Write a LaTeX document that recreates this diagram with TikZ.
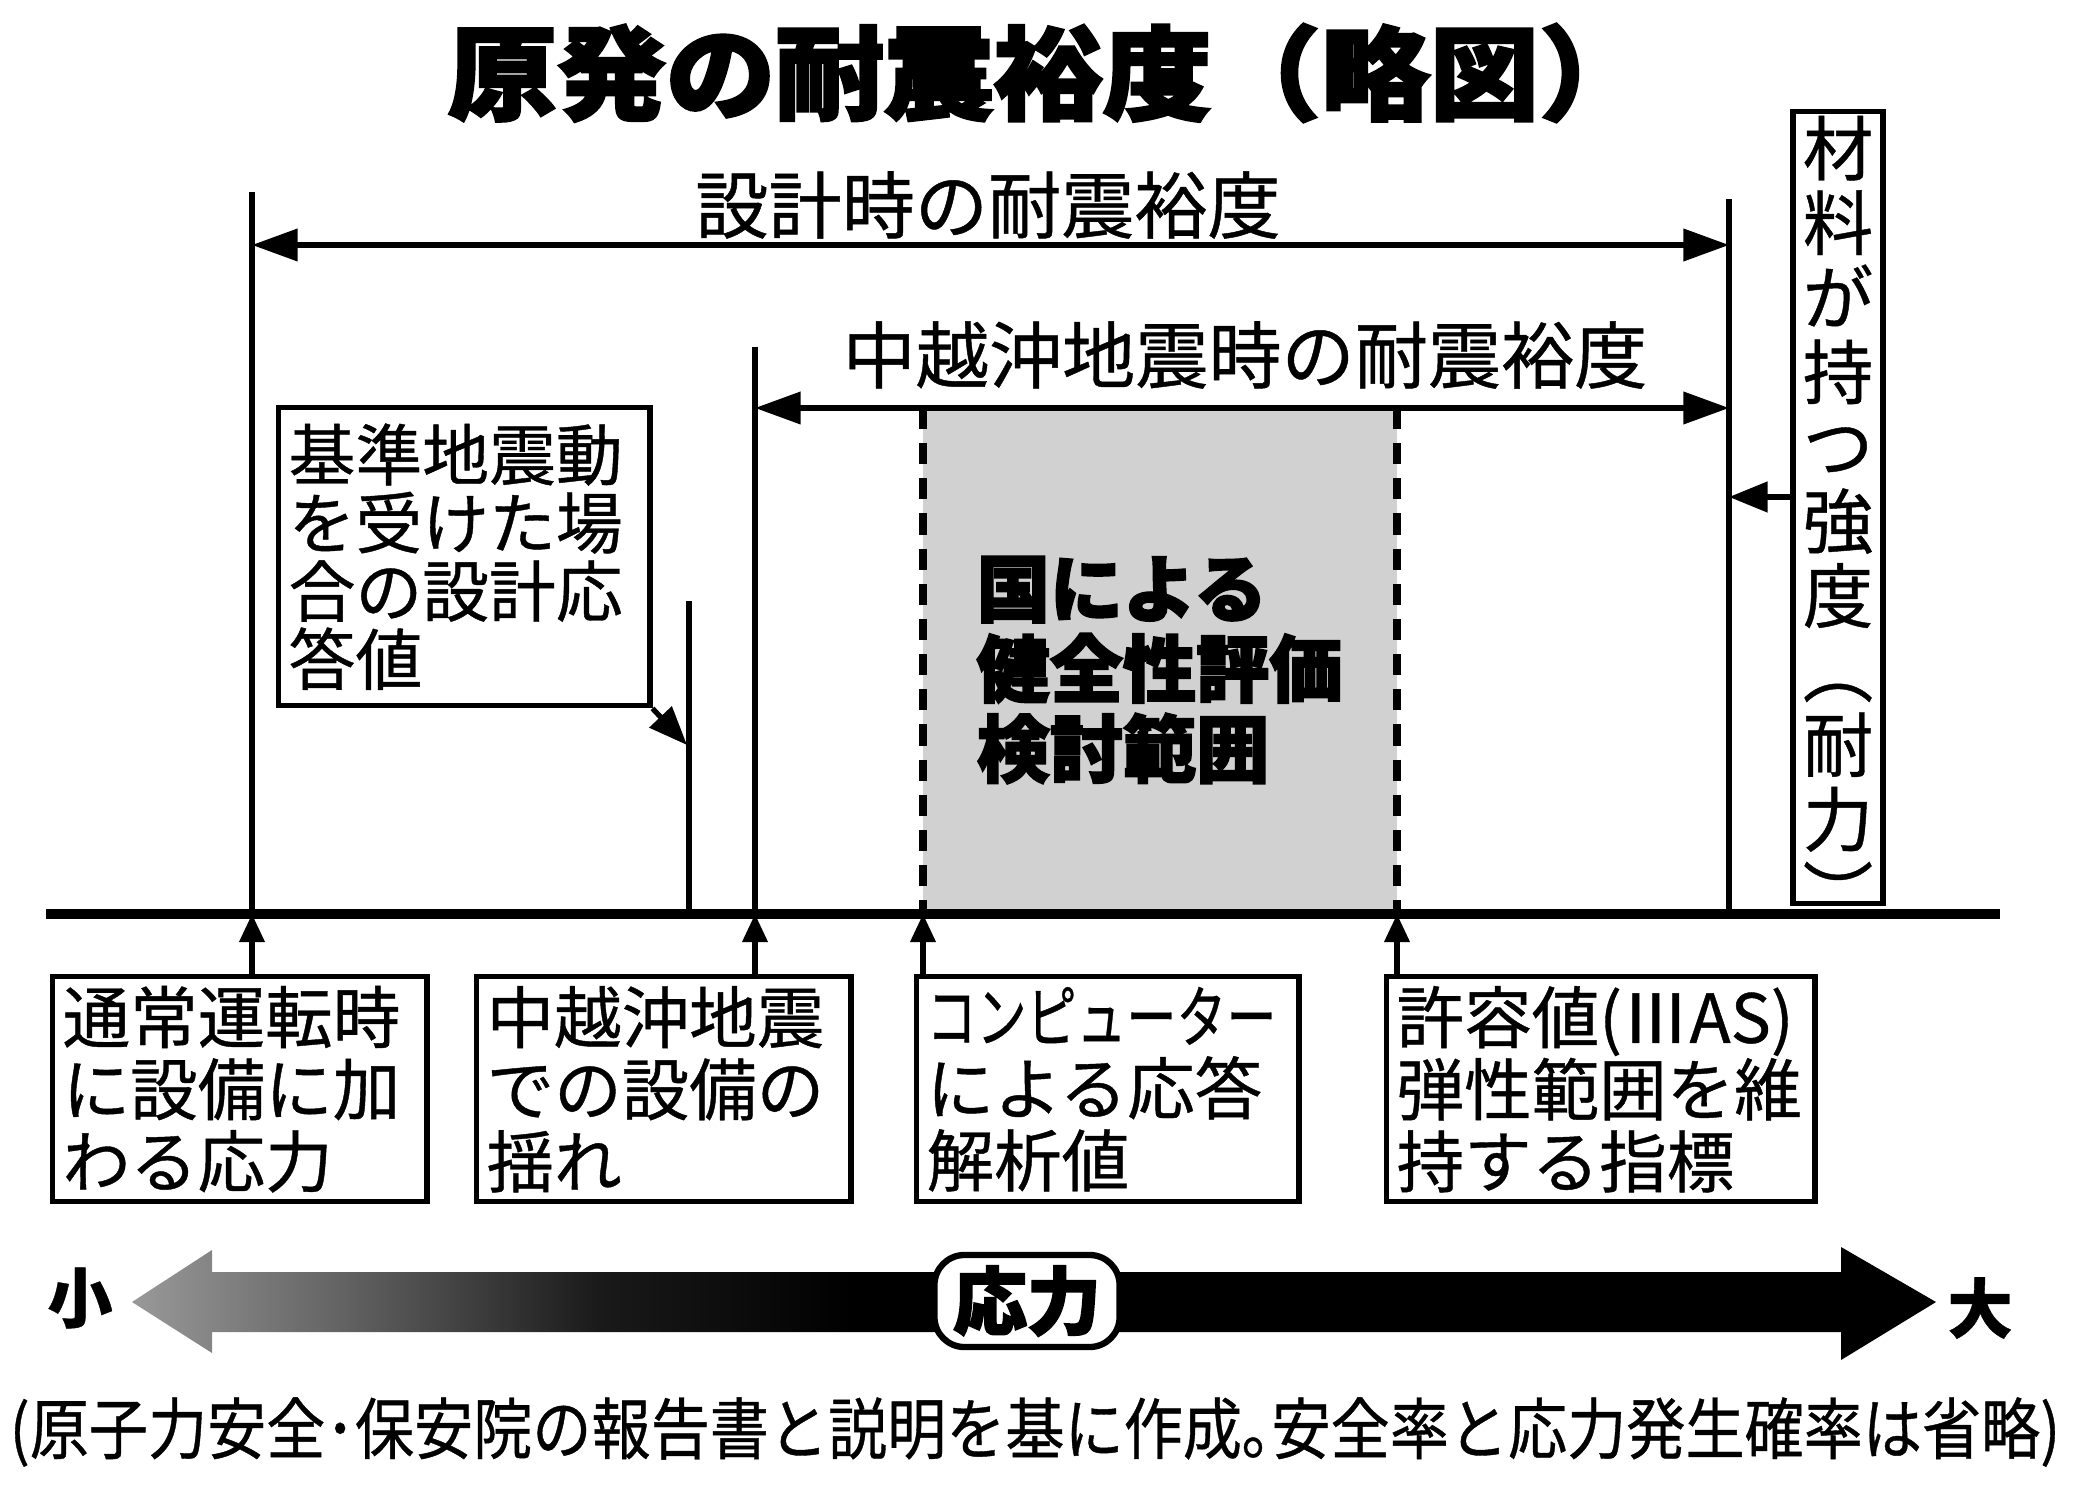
\documentclass[tikz,border=0pt]{standalone}
\usepackage{fontspec}
\usepackage{graphicx}
\setmainfont{Noto Sans CJK JP}[FakeBold=0.6]
\newfontfamily\heavyfont[FakeBold=2.5]{Noto Sans CJK JP}
\usetikzlibrary{arrows.meta}
\pgfdeclarehorizontalshading{stressfade}{100bp}{color(0bp)=(black!40); color(25bp)=(black!40); color(31bp)=(black!62); color(38bp)=(black!90); color(45bp)=(black); color(100bp)=(black)}

\begin{document}
\begin{tikzpicture}[x=0.01cm,y=-0.01cm,
	rule/.style={line width=1.5pt},
	tip/.style={-{Triangle[length=11pt,width=8.5pt]}},
	twotip/.style={{Triangle[length=13pt,width=9pt]}-{Triangle[length=13pt,width=9pt]}},
	uptip/.style={-{Triangle[length=8pt,width=7pt]}},
	margin/.style={font=\fontsize{20.8pt}{22pt}\selectfont,inner sep=0pt},
	note/.style={draw,line width=1.5pt,fill=white,anchor=north west,align=left,
		inner xsep=0.1cm,inner ysep=0pt,minimum height=2.25cm,
		font=\fontsize{19.2pt}{20.5pt}\selectfont},
	]
\useasboundingbox (0,0) rectangle (2077,1501);

\coordinate (v1t) at (252,192);
\coordinate (v1b) at (252,914);
\coordinate (v2t) at (755,347);
\coordinate (v2b) at (755,914);
\coordinate (v3t) at (689,601);
\coordinate (v3b) at (689,914);
\coordinate (vrt) at (1729,199);
\coordinate (vrb) at (1729,914);
\coordinate (dlt) at (923,408);
\coordinate (dlb) at (923,914);
\coordinate (drt) at (1397,408);
\coordinate (drb) at (1397,914);
\coordinate (sdl) at (252,245);
\coordinate (sdr) at (1729,245);
\coordinate (cdl) at (755,408);
\coordinate (cdr) at (1729,408);
\coordinate (sa) at (1729,497);
\coordinate (ra) at (687,745);
\coordinate (bl) at (46,914);
\coordinate (br) at (2000,914);

\node[font=\heavyfont\bfseries\fontsize{29pt}{30pt}\selectfont] (title) at (1048,73)
	{\scalebox{1.07}[1]{原発の耐震裕度（略図）}};

\fill[black!18] (dlt) rectangle (drb);
\draw[line width=2.2pt,dash pattern=on 6pt off 4pt] (dlt) -- (dlb);
\draw[line width=2.2pt,dash pattern=on 6pt off 4pt] (drt) -- (drb);
\node[anchor=west,align=left,inner sep=0pt,
	font=\heavyfont\bfseries\fontsize{20.8pt}{22.8pt}\selectfont] (scope) at (976,670)
	{国による\\健全性評価\\検討範囲};

\draw[rule] (v1t) -- (v1b);
\draw[rule] (v2t) -- (v2b);
\draw[rule] (v3t) -- (v3b);
\draw[rule] (vrt) -- (vrb);

\node[margin] (design) at (988,205) {設計時の耐震裕度};
\draw[rule,twotip] (sdl) -- (sdr);
\node[margin] (chuetsu) at (1245,355) {中越沖地震時の耐震裕度};
\draw[rule,twotip] (cdl) -- (cdr);

\node[note,text width=3.51cm,minimum height=2.98cm,
	font=\fontsize{19pt}{19.4pt}\selectfont] (resp) at (276,405)
	{基準地震動\\を受けた場\\合の設計応\\答値};
\draw[rule,tip] (resp.south east) -- (ra);

\node[draw,line width=1.5pt,fill=white,minimum width=0.9cm,minimum height=7.91cm,
	inner sep=0pt] (strength) at (1838,507.5) {};
\node[anchor=north,inner sep=0pt,align=center,font=\fontsize{20pt}{21.2pt}\selectfont]
	(strengthtext) at ([yshift=-0.06cm]strength.north)
	{材\\料\\が\\持\\つ\\強\\度\\︵\\耐\\力\\︶};
\draw[rule,tip] (strength.west |- sa) -- (sa);

\node[note,text width=3.54cm] (b1) at (50,974) {通常運転時\\に設備に加\\わる応力};
\node[note,text width=3.54cm] (b2) at (474,974) {中越沖地震\\での設備の\\揺れ};
\node[note,text width=3.62cm] (b3) at (914,974) {\scalebox{0.74}[1]{コンピューター}\\による応答\\解析値};
\node[note,text width=4.08cm] (b4) at (1384,974) {許容値(ⅢAS)\\弾性範囲を維\\持する指標};

\draw[rule,uptip] (b1.north -| v1b) -- (v1b);
\draw[rule,uptip] (b2.north -| v2b) -- (v2b);
\draw[rule,uptip] (b3.north -| dlb) -- (dlb);
\draw[rule,uptip] (b4.north -| drb) -- (drb);

\draw[line width=3pt] (bl) -- (br);

\shade[shading=stressfade] (132,1302) -- (212,1250) -- (212,1272) -- (1841,1272) -- (1841,1247)
	-- (1936,1302) -- (1841,1360) -- (1841,1332) -- (212,1332) -- (212,1353) -- cycle;
\node[draw,line width=1.8pt,fill=white,rounded corners=0.3cm,minimum width=1.85cm,minimum height=0.92cm,
	inner sep=0pt,font=\heavyfont\bfseries\fontsize{21pt}{22pt}\selectfont] (stress) at (1027,1301) {応力};
\node[font=\bfseries\fontsize{18.5pt}{19pt}\selectfont] (small) at (80,1298) {小};
\node[font=\bfseries\fontsize{18.5pt}{19pt}\selectfont] (large) at (1980,1308) {大};

\node[font=\fontsize{19pt}{20pt}\selectfont,inner sep=0pt] (src) at (1035,1432)
	{\scalebox{0.885}[1]{(原子力安全･保安院の報告書と説明を基に作成｡安全率と応力発生確率は省略)}};
\end{tikzpicture}
\end{document}
